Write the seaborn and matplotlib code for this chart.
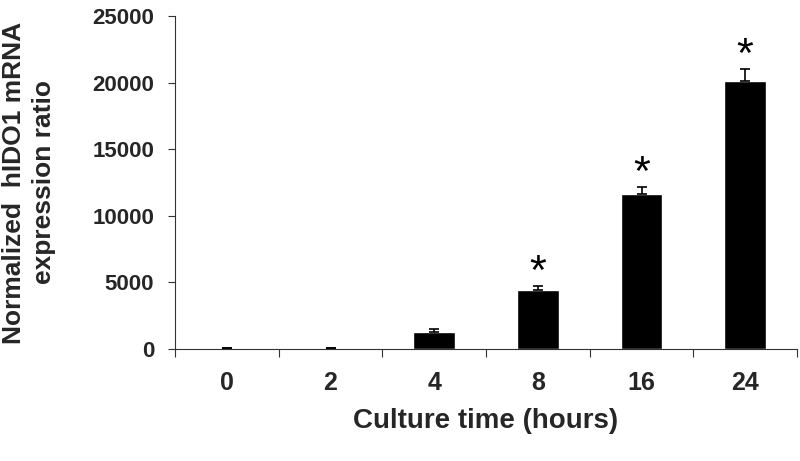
import matplotlib
matplotlib.use("Agg")
import matplotlib.pyplot as plt
import seaborn as sns
import numpy as np
import pandas as pd

# Data
categories = ["0", "2", "4", "8", "16", "24"]
values = [60, 50, 1250, 4400, 11600, 20100]
errors = [0, 0, 250, 330, 530, 900]
significant = [False, False, False, True, True, True]
y_ticks = [0, 5000, 10000, 15000, 20000, 25000]

sns.set_theme(style="white")
plt.rcParams["font.family"] = ["Liberation Sans", "DejaVu Sans"]
plt.rcParams["font.weight"] = "bold"

df = pd.DataFrame({"time": categories, "value": values})

fig = plt.figure(figsize=(8, 4.61), dpi=100)
ax = fig.add_axes([175 / 800, 1 - 349 / 461, 622 / 800, 333 / 461])

sns.barplot(data=df, x="time", y="value", order=categories, color="black",
            width=0.4, errorbar=None, ax=ax, saturation=1)

xpos = np.arange(len(categories))
ax.errorbar(xpos, values, yerr=[np.zeros(len(errors)), errors], fmt="none",
            ecolor="black", elinewidth=1.2, capsize=3.6, capthick=1.2)

for x, v, e, s in zip(xpos, values, errors, significant):
    if s:
        ax.text(x, v + e + 1000, "*", ha="center", va="center",
                fontsize=31, fontweight="normal", color="black")

ax.set_xlim(-0.5, len(categories) - 0.5)
ax.set_ylim(0, 25000)
ax.set_yticks(y_ticks)
ax.set_yticklabels([str(t) for t in y_ticks], fontsize=16, fontweight="bold")
ax.set_xticks(xpos)
ax.set_xticklabels(categories, fontsize=18, fontweight="bold")
ax.set_xticks(np.arange(-0.5, len(categories)), minor=True)

ax.tick_params(axis="y", which="major", direction="out", length=5, width=0.8,
               color="#333333", pad=10, left=True)
ax.tick_params(axis="x", which="major", length=0, pad=16, bottom=True)
ax.tick_params(axis="x", which="minor", direction="out", length=6, width=0.8,
               color="#333333", bottom=True)

for side in ["top", "right"]:
    ax.spines[side].set_visible(False)
for side in ["left", "bottom"]:
    ax.spines[side].set_color("#333333")
    ax.spines[side].set_linewidth(0.8)

ax.set_xlabel("Culture time (hours)", fontsize=20, fontweight="bold", labelpad=9)
ax.set_ylabel("Normalized  hIDO1 mRNA\nexpression ratio", fontsize=19,
              fontweight="bold", labelpad=26, linespacing=1.3)
ax.grid(False)

fig.savefig("out.png", dpi=100)
